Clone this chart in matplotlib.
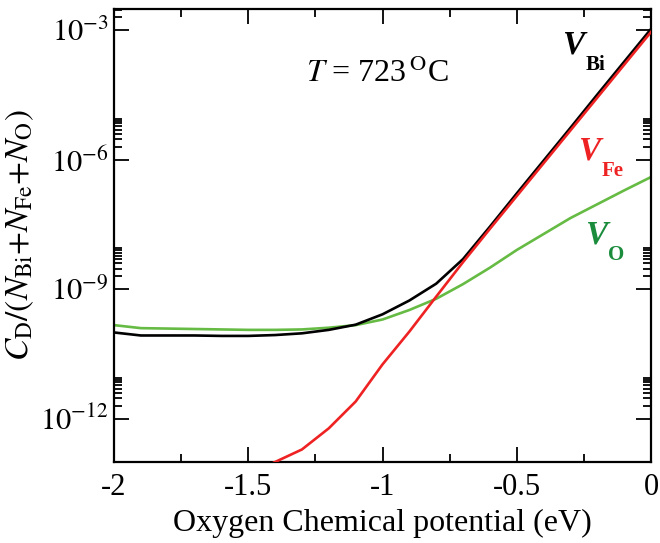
import numpy as np
import matplotlib
matplotlib.use("Agg")
import matplotlib.pyplot as plt
from matplotlib.ticker import FixedLocator, NullFormatter, MultipleLocator

plt.rcParams['font.family'] = ['Liberation Serif', 'DejaVu Serif']
plt.rcParams['mathtext.fontset'] = 'stix'

# oxygen chemical potential (eV)
mu_O = [-2.0, -1.9, -1.8, -1.7, -1.6, -1.5, -1.4, -1.3, -1.2, -1.1, -1.0,
        -0.9, -0.8, -0.7, -0.6, -0.5, -0.4, -0.3, -0.2, -0.1, 0.0]

# log10 of defect concentration
log_V_Bi = [-10.00, -10.07, -10.07, -10.07, -10.08, -10.08, -10.06, -10.02, -9.94, -9.82, -9.58,
            -9.26, -8.87, -8.30, -7.55, -6.78, -6.02, -5.26, -4.49, -3.73, -2.97]
log_V_Fe = [-14.5, -14.2, -13.95, -13.7, -13.5, -13.3, -13.0, -12.71, -12.22, -11.60, -10.74,
            -9.98, -9.17, -8.37, -7.60, -6.84, -6.08, -5.32, -4.56, -3.80, -3.04]
log_V_O = [-9.83, -9.90, -9.91, -9.92, -9.93, -9.94, -9.94, -9.93, -9.89, -9.83, -9.70,
           -9.48, -9.22, -8.88, -8.50, -8.09, -7.72, -7.35, -7.03, -6.71, -6.40]

y_ticks = [1e-12, 1e-9, 1e-6, 1e-3]
y_ticklabels = [r'$10^{-12}$', r'$10^{-9}$', r'$10^{-6}$', r'$10^{-3}$']
x_ticks = [-2, -1.5, -1, -0.5, 0]
x_ticklabels = ['-2', '-1.5', '-1', '-0.5', '0']

fig = plt.figure(figsize=(6.6, 5.43), dpi=100)
ax = fig.add_axes([0.1727, 0.1492, 0.8137, 0.8342])

ax.plot(mu_O, 10.0 ** np.array(log_V_Bi), color='black', lw=1.9, zorder=3)
ax.plot(mu_O, 10.0 ** np.array(log_V_Fe), color='#ee2222', lw=1.9, zorder=4)
ax.plot(mu_O, 10.0 ** np.array(log_V_O), color='#66bb44', lw=1.9, zorder=2)

ax.set_yscale('log')
ax.set_xlim(-2, 0)
ax.set_ylim(1e-13, 3.1e-3)

ax.set_xticks(x_ticks)
ax.set_xticklabels(x_ticklabels)
ax.xaxis.set_minor_locator(MultipleLocator(0.25))

ax.yaxis.set_major_locator(FixedLocator(y_ticks))
ax.set_yticklabels(y_ticklabels)
minors = []
for e in [-15, -12, -9, -6, -3]:
    for k in range(2, 10):
        minors.append(k * 10.0 ** e)
ax.yaxis.set_minor_locator(FixedLocator(minors))
ax.yaxis.set_minor_formatter(NullFormatter())

ax.tick_params(which='both', direction='in', top=True, right=True, width=1.3)
ax.tick_params(which='major', length=11, labelsize=22, pad=8)
ax.tick_params(axis='y', which='major', pad=4)
ax.tick_params(which='minor', length=6)
for s in ax.spines.values():
    s.set_linewidth(1.6)

ax.set_xlabel('Oxygen Chemical potential (eV)', fontsize=23, labelpad=5)
ax.set_ylabel(r'$C_{\rm D}/(N_{\rm Bi}{+}N_{\rm Fe}{+}N_{\rm O})$', fontsize=24, labelpad=3)

ax.text(-1.285, 10 ** -4.0, r'$T$ = 723$\,^{\rm O}$C', fontsize=23, ha='left', va='center')

# curve labels
def vlabel(x, y, sub, color):
    ax.text(x, y, 'V', fontsize=24, fontweight='bold', style='italic', color=color,
            ha='left', va='center')
    ax.text(x + 0.085, y * 10 ** -0.45, sub, fontsize=15, fontweight='bold', color=color,
            ha='left', va='center')

vlabel(-0.33, 10 ** -3.35, 'Bi', 'black')
vlabel(-0.27, 10 ** -5.8, 'Fe', '#ee2222')
vlabel(-0.245, 10 ** -7.75, 'O', '#1a8c3c')

fig.savefig('out.png', dpi=100)
